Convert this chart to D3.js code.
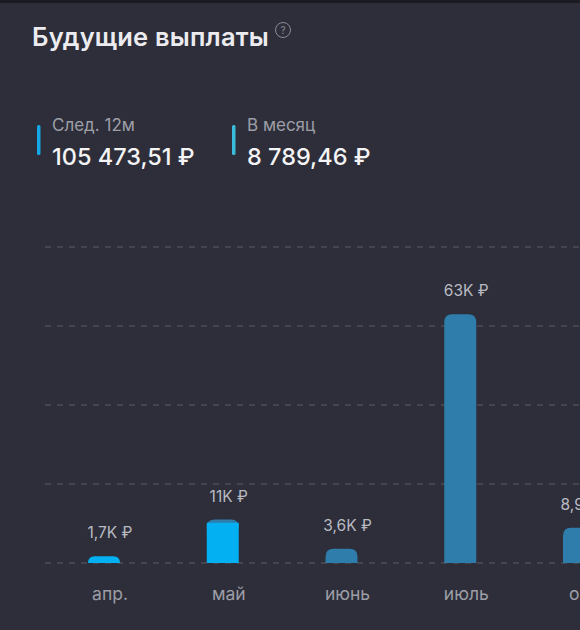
<!DOCTYPE html>
<html>
<head>
<meta charset="utf-8">
<script src="https://cdn.jsdelivr.net/npm/d3@7"></script>
<style>
  html, body { margin: 0; padding: 0; background: #2d2e39; }
  svg { display: block; }
  text { font-family: Inter, Roboto, "Noto Sans", sans-serif; }
</style>
</head>
<body>
<div id="chart"></div>
<script>
// Data
const months = ["апр.", "май", "июнь", "июль", "окт."];
const paidValues = [1.7, 10.2, 0, 0, 0];       // thousand rubles, already received
const expectedValues = [0, 0.8, 3.6, 63, 8.9]; // thousand rubles, expected
const valueLabels = ["1,7K ₽", "11K ₽", "3,6K ₽", "63K ₽", "8,9K ₽"];
const gridTicks = [0, 20, 40, 60, 80];
const summaryLabels = ["След. 12м", "В месяц"];
const summaryValues = ["105 473,51 ₽", "8 789,46 ₽"];

// Dimensions
const dims = {width: 580, height: 630};
const plot = {left: 45, right: 580, top: 247, bottom: 563};
const labelShift = 6; // text column sits a bit right of the bar

// SVG
const svg = d3.select('#chart')
  .append('svg')
  .attr('width', dims.width)
  .attr('height', dims.height);

svg.append('rect')
  .attr('width', dims.width).attr('height', dims.height)
  .attr('fill', '#2d2e39');
svg.append('rect')
  .attr('width', dims.width).attr('height', 3)
  .attr('fill', '#1b1b21');

// Title
svg.append('text')
  .attr('x', 32).attr('y', 46)
  .attr('font-size', 25.5).attr('font-weight', 600)
  .attr('letter-spacing', 0.2)
  .attr('fill', '#ececf0')
  .text('Будущие выплаты');
const help = svg.append('g').attr('transform', 'translate(283,30)');
help.append('circle').attr('r', 7.5)
  .attr('fill', 'none').attr('stroke', '#8a8b94').attr('stroke-width', 1);
help.append('text')
  .attr('text-anchor', 'middle').attr('dy', '0.36em')
  .attr('font-size', 10).attr('fill', '#8a8b94')
  .text('?');

// Summary
const summaryColours = ['#14a6e6', '#3cbcdc'];
const summary = svg.append('g').attr('class', 'summary')
  .selectAll('g')
  .data(summaryLabels)
  .enter().append('g')
  .attr('transform', (d, i) => `translate(${[37, 232][i]},0)`);
summary.append('rect')
  .attr('x', 0).attr('y', 125).attr('width', 3.5).attr('height', 30).attr('rx', 1.5)
  .attr('fill', (d, i) => summaryColours[i]);
summary.append('text')
  .attr('x', 15).attr('y', 131)
  .attr('font-size', 17).attr('fill', '#9d9ea7')
  .text(d => d);
summary.append('text')
  .attr('x', 15).attr('y', 165)
  .attr('font-size', 23.5).attr('font-weight', 500).attr('fill', '#f4f4f6')
  .text((d, i) => summaryValues[i]);

// Scales
const step = 118.75;
const x = d3.scaleBand()
  .domain(months)
  .range([104 - step / 2, 104 - step / 2 + step * months.length])
  .paddingInner(1 - 32 / step)
  .paddingOuter((1 - 32 / step) / 2);

const y = d3.scaleLinear()
  .domain([0, 80])
  .range([plot.bottom, plot.top]);

// Gridlines
svg.append('g').attr('class', 'grid')
  .selectAll('line')
  .data(gridTicks)
  .enter().append('line')
  .attr('x1', plot.left).attr('x2', plot.right)
  .attr('y1', d => y(d)).attr('y2', d => y(d))
  .attr('stroke', '#5a5b65').attr('stroke-width', 1)
  .attr('stroke-dasharray', '6,6');

// Bars
const rounded = (x0, w, yTop, yBot, r) => {
  const rr = Math.min(r, w / 2, yBot - yTop);
  return `M${x0},${yBot}V${yTop + rr}Q${x0},${yTop} ${x0 + rr},${yTop}H${x0 + w - rr}Q${x0 + w},${yTop} ${x0 + w},${yTop + rr}V${yBot}Z`;
};

const data = months.map((m, i) => ({month: m, paid: paidValues[i], expected: expectedValues[i], label: valueLabels[i]}));
const bars = svg.append('g').attr('class', 'bars');

// expected part (stacked on top of paid)
bars.selectAll('path.expected')
  .data(data.filter(d => d.expected > 0))
  .enter().append('path')
  .attr('class', 'expected')
  .attr('fill', '#2e7dab')
  .attr('d', d => rounded(x(d.month), x.bandwidth(), y(d.paid + d.expected), y(d.paid) + (d.paid > 0 ? 6 : 0), 8));

bars.selectAll('path.paid')
  .data(data.filter(d => d.paid > 0))
  .enter().append('path')
  .attr('class', 'paid')
  .attr('fill', '#03b1f3')
  .attr('d', d => d.expected > 0
    ? `M${x(d.month)},${y(0)}V${y(d.paid)}H${x(d.month) + x.bandwidth()}V${y(0)}Z`
    : rounded(x(d.month), x.bandwidth(), y(d.paid), y(0), 12));

// Value labels
bars.selectAll('text.value')
  .data(data)
  .enter().append('text')
  .attr('class', 'value')
  .attr('x', d => x(d.month) + x.bandwidth() / 2 + labelShift)
  .attr('y', d => y(d.paid + d.expected) - 18)
  .attr('text-anchor', 'middle')
  .attr('font-size', 15.5).attr('fill', '#b9bac2')
  .text(d => d.label);

// Month axis
const xAxis = svg.append('g')
  .attr('transform', `translate(${labelShift},${plot.bottom})`)
  .call(d3.axisBottom(x).tickSize(0).tickPadding(25));
xAxis.select('.domain').remove();
xAxis.selectAll('text')
  .attr('font-size', 17.5).attr('fill', '#9d9ea7')
  .style('font-family', 'Inter, Roboto, sans-serif');
</script>
</body>
</html>
